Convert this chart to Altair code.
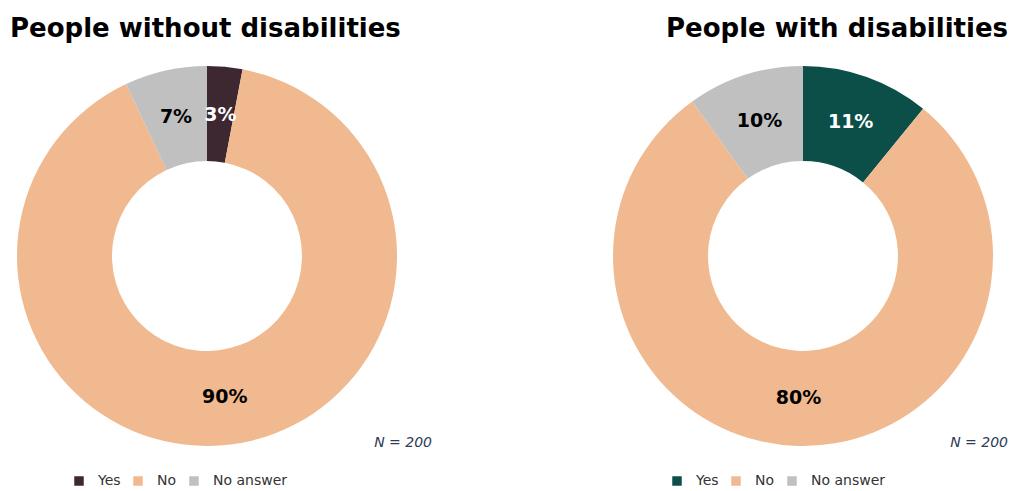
import altair as alt
import pandas as pd

answers = ["Yes", "No", "No answer"]
values_without = [3, 90, 7]
values_with = [11, 80, 10]
labels_without = ["3%", "90%", "7%"]
labels_with = ["11%", "80%", "10%"]
colors_without = ["#3d2832", "#f0b98f", "#c0c0c0"]
colors_with = ["#0c4f49", "#f0b98f", "#c0c0c0"]
titles = ["People without disabilities", "People with disabilities"]
n_note = "N = 200"

W, H = 1000, 483
FONT = "DejaVu Sans"


def donut(values, labels, colors, cx, cy, legend_x, title, title_x, title_align, note_x):
    df = pd.DataFrame({
        "answer": answers,
        "value": values,
        "label": labels,
        "order": list(range(len(answers))),
    })
    base = alt.Chart(df).encode(
        theta=alt.Theta("value:Q", stack=True),
        order=alt.Order("order:Q"),
    )
    arcs = base.mark_arc(innerRadius=95, outerRadius=190).encode(
        x=alt.value(cx),
        y=alt.value(cy),
        color=alt.Color(
            "answer:N",
            sort=answers,
            scale=alt.Scale(domain=answers, range=colors),
            legend=alt.Legend(
                orient="none",
                legendX=legend_x,
                legendY=466,
                direction="horizontal",
                title=None,
                symbolType="square",
                symbolSize=90,
                symbolStrokeWidth=0,
                labelFont=FONT,
                labelFontSize=14,
                labelColor="#333333",
                labelOffset=12,
                columnPadding=10,
                padding=0,
            ),
        ),
    )
    text = base.mark_text(radius=142, font=FONT, fontSize=19, fontWeight="bold").encode(
        x=alt.value(cx),
        y=alt.value(cy),
        text="label:N",
        color=alt.condition(alt.datum.answer == "Yes", alt.value("white"), alt.value("black")),
    )
    ttl = alt.Chart(pd.DataFrame({"t": [title]})).mark_text(
        align=title_align, baseline="alphabetic", font=FONT, fontSize=26,
        fontWeight="bold", color="black",
    ).encode(x=alt.value(title_x), y=alt.value(29), text="t:N")
    note = alt.Chart(pd.DataFrame({"t": [n_note]})).mark_text(
        align="right", baseline="alphabetic", font=FONT, fontSize=14,
        fontStyle="italic", color="#2f3a55",
    ).encode(x=alt.value(note_x), y=alt.value(439), text="t:N")
    return alt.layer(arcs, text, ttl, note)


left = donut(values_without, labels_without, colors_without, 199, 248, 64, titles[0], 2, "left", 424)
right = donut(values_with, labels_with, colors_with, 795, 248, 662, titles[1], 1000, "right", 1000)

chart = alt.layer(left, right).resolve_scale(
    color="independent", theta="independent"
).properties(
    width=W, height=H, padding=0, autosize=alt.AutoSizeParams(type="none")
).configure_view(stroke=None)

chart.save("out.html", embed_options={"renderer": "svg", "actions": False})
